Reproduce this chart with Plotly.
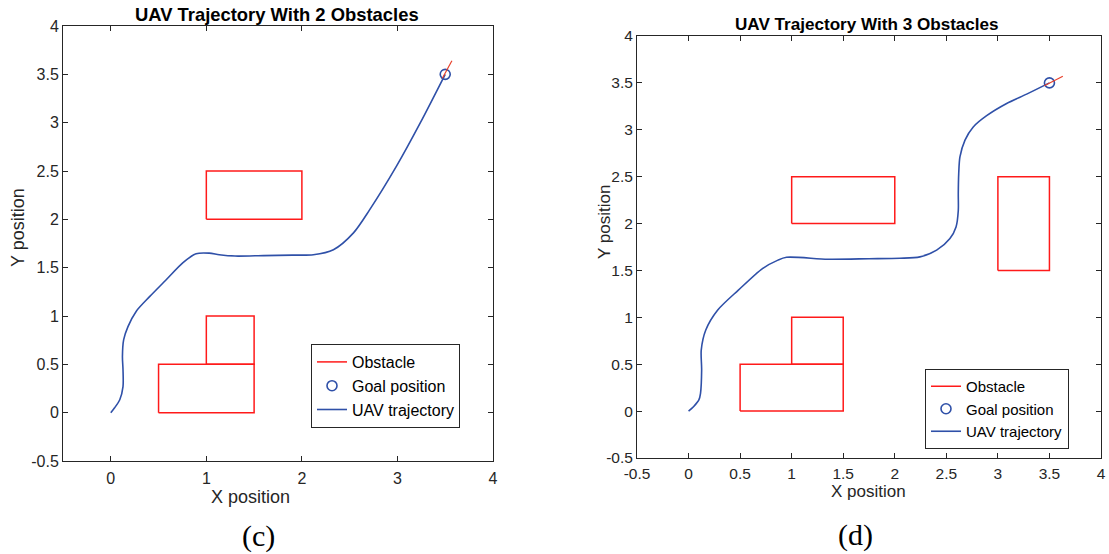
import plotly.graph_objects as go

# ---------------- data ----------------
# obstacles as (x0, x1, y0, y1)
obstacles_c = [(1.0, 2.0, 2.0, 2.5), (1.0, 1.5, 0.5, 1.0), (0.5, 1.5, 0.0, 0.5)]
obstacles_d = [(1.0, 2.0, 2.0, 2.5), (1.0, 1.5, 0.5, 1.0), (0.5, 1.5, 0.0, 0.5), (3.0, 3.5, 1.5, 2.5)]

goal = (3.5, 3.5)

# short red heading segment at the goal
head_c_x = [3.47, 3.57]
head_c_y = [3.46, 3.64]
head_d_x = [3.45, 3.63]
head_d_y = [3.47, 3.57]

traj_c_x = [0.0, 0.04, 0.094, 0.128, 0.128, 0.122, 0.135, 0.18, 0.267, 0.406, 0.58, 0.753,
            0.893, 1.03, 1.135, 1.30, 1.60, 1.90, 2.12, 2.33, 2.54, 2.71, 2.99, 3.24, 3.50]
traj_c_y = [0.0, 0.05, 0.134, 0.27, 0.445, 0.58, 0.755, 0.89, 1.05, 1.20, 1.375, 1.55,
            1.644, 1.65, 1.634, 1.62, 1.625, 1.63, 1.634, 1.686, 1.86, 2.10, 2.55, 3.00, 3.50]

traj_d_x = [0.0, 0.05, 0.10, 0.116, 0.127, 0.123, 0.167, 0.283, 0.483, 0.717, 0.867, 0.95,
            1.35, 1.75, 2.05, 2.244, 2.406, 2.535, 2.594, 2.616, 2.616, 2.62, 2.632, 2.681,
            2.761, 2.891, 3.085, 3.279, 3.50]
traj_d_y = [0.0, 0.05, 0.12, 0.19, 0.44, 0.65, 0.865, 1.078, 1.29, 1.52, 1.61, 1.64,
            1.62, 1.625, 1.63, 1.645, 1.716, 1.84, 1.964, 2.14, 2.32, 2.53, 2.71, 2.89,
            3.03, 3.15, 3.28, 3.38, 3.50]

ticks_c_x = [0, 1, 2, 3, 4]
ticks_c_x_text = ["0", "1", "2", "3", "4"]
ticks_d_x = [-0.5, 0, 0.5, 1, 1.5, 2, 2.5, 3, 3.5, 4]
ticks_d_x_text = ["-0.5", "0", "0.5", "1", "1.5", "2", "2.5", "3", "3.5", "4"]
ticks_y = [-0.5, 0, 0.5, 1, 1.5, 2, 2.5, 3, 3.5, 4]
ticks_y_text = ["-0.5", "0", "0.5", "1", "1.5", "2", "2.5", "3", "3.5", "4"]

titles = ["UAV Trajectory With 2 Obstacles", "UAV Trajectory With 3 Obstacles"]
panel_labels = ["(c)", "(d)"]

# ---------------- style ----------------
RED = "#FF1A1A"
HEAD_RED = "#E8402A"
BLUE = "#2F50A8"
AX = "#262626"
SANS = "Liberation Sans, Arial, sans-serif"
SERIF = "Liberation Serif, Times New Roman, serif"

W, H = 1109, 554

fig = go.Figure()


def rect_xy(r):
    x0, x1, y0, y1 = r
    return [x0, x1, x1, x0, x0], [y0, y0, y1, y1, y0]


def add_panel(obs, tx, ty, hx, hy, xa, ya, legend):
    for i, r in enumerate(obs):
        px, py = rect_xy(r)
        fig.add_trace(go.Scatter(x=px, y=py, mode="lines", line=dict(color=RED, width=1.5),
                                 name="Obstacle", legendgroup="obs" + legend,
                                 showlegend=(i == 0), legend=legend, legendrank=1,
                                 xaxis=xa, yaxis=ya, hoverinfo="skip"))
    fig.add_trace(go.Scatter(x=tx, y=ty, mode="lines",
                             line=dict(color=BLUE, width=1.6, shape="spline", smoothing=0.8),
                             name="UAV trajectory", legend=legend, legendrank=3,
                             xaxis=xa, yaxis=ya))
    fig.add_trace(go.Scatter(x=[goal[0]], y=[goal[1]], mode="markers",
                             marker=dict(symbol="circle-open", size=10, color=BLUE,
                                         line=dict(width=1.6, color=BLUE)),
                             name="Goal position", legend=legend, legendrank=2,
                             xaxis=xa, yaxis=ya))
    fig.add_trace(go.Scatter(x=hx, y=hy, mode="lines", line=dict(color=HEAD_RED, width=1.2),
                             showlegend=False, xaxis=xa, yaxis=ya, hoverinfo="skip"))


add_panel(obstacles_c, traj_c_x, traj_c_y, head_c_x, head_c_y, "x", "y", "legend")
add_panel(obstacles_d, traj_d_x, traj_d_y, head_d_x, head_d_y, "x2", "y2", "legend2")


def px2x(p):
    return p / W


def px2y(p):
    return 1 - p / H


axis_common = dict(showline=True, linecolor=AX, linewidth=1, mirror="ticks", ticks="inside",
                   ticklen=5, tickcolor=AX, tickwidth=1, showgrid=False, zeroline=False,
                   tickmode="array", automargin=False)

fig.update_layout(
    width=W, height=H, margin=dict(l=0, r=0, t=0, b=0, autoexpand=False),
    paper_bgcolor="white", plot_bgcolor="white",
    xaxis=dict(domain=[px2x(63), px2x(493)], range=[-0.5, 4], tickvals=ticks_c_x,
               ticktext=ticks_c_x_text, anchor="y", ticklabelstandoff=3,
               tickfont=dict(family=SANS, size=16, color=AX), **axis_common),
    yaxis=dict(domain=[px2y(461), px2y(26)], range=[-0.5, 4], tickvals=ticks_y,
               ticktext=ticks_y_text, anchor="x",
               tickfont=dict(family=SANS, size=16, color=AX), **axis_common),
    xaxis2=dict(domain=[px2x(637), px2x(1101)], range=[-0.5, 4], tickvals=ticks_d_x,
                ticktext=ticks_d_x_text, anchor="y2", ticklabelstandoff=1,
                tickfont=dict(family=SANS, size=15.5, color=AX), **axis_common),
    yaxis2=dict(domain=[px2y(458), px2y(36)], range=[-0.5, 4], tickvals=ticks_y,
                ticktext=ticks_y_text, anchor="x2",
                tickfont=dict(family=SANS, size=15.5, color=AX), **axis_common),
    legend=dict(x=px2x(311), y=px2y(386), xanchor="left", yanchor="middle",
                bordercolor=AX, borderwidth=1, bgcolor="white",
                font=dict(family=SANS, size=16, color="black"), tracegroupgap=0),
    legend2=dict(x=px2x(925), y=px2y(409), xanchor="left", yanchor="middle",
                 bordercolor=AX, borderwidth=1, bgcolor="white",
                 font=dict(family=SANS, size=15, color="black"), tracegroupgap=0),
    showlegend=True,
)


def ann(text, x, y, size, family=SANS, color=AX, angle=0, weight="normal"):
    return dict(text=text, x=px2x(x), y=px2y(y), xref="paper", yref="paper",
                xanchor="center", yanchor="middle", showarrow=False, textangle=angle,
                font=dict(family=family, size=size, color=color, weight=weight))


annotations = [
    ann(titles[0], 277, 14, 18.4, color="black", weight="bold"),
    ann(titles[1], 867, 25, 17.1, color="black", weight="bold"),
    ann("X position", 250, 497, 18),
    ann("Y position", 18, 228, 18, angle=-90),
    ann("X position", 868, 491, 17),
    ann("Y position", 605, 222, 17, angle=-90),
    ann(panel_labels[0], 258, 536, 30, family=SERIF, color="black"),
    ann(panel_labels[1], 855, 535, 30, family=SERIF, color="black"),
]
fig.update_layout(annotations=annotations)

fig.write_html("out.html")
